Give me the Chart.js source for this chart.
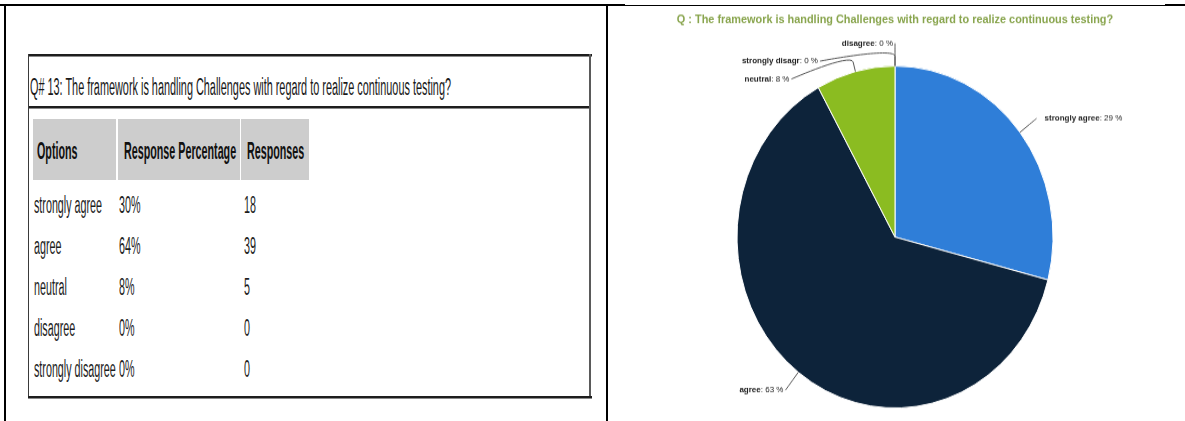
<!DOCTYPE html>
<html>
<head>
<meta charset="utf-8">
<script src="https://cdn.jsdelivr.net/npm/chart.js@4.4.1/dist/chart.umd.min.js"></script>
<style>
  html, body { margin: 0; padding: 0; background: #fff; }
  body { width: 1185px; height: 421px; position: relative; overflow: hidden;
         font-family: "Liberation Sans", Arial, sans-serif; }
  .ln { position: absolute; background: #000; }
  .cell { position: absolute; background: #cdcdcd; }
  .tx { position: absolute; white-space: nowrap; font-size: 23px; line-height: 23px;
        transform-origin: 0 0; color: #1e1e1e; }
  #pieWrap { position: absolute; left: 610px; top: 8px; width: 575px; height: 381px;
             transform: scaleY(1.0823); transform-origin: 0 0; }
  #pie { display: block; }
</style>
</head>
<body>
<div id="table"></div>
<div id="pieWrap"><canvas id="pie" width="575" height="381" style="width:575px;height:381px"></canvas></div>

<script>
// ---- survey data ----
const tableTitle = 'Q# 13: The framework is handling Challenges with regard to realize continuous testing?';
const columnHeads = ['Options', 'Response Percentage', 'Responses'];
const optionNames = ['strongly agree', 'agree', 'neutral', 'disagree', 'strongly disagree'];
const responsePercent = [30, 64, 8, 0, 0];
const responseCount = [18, 39, 5, 0, 0];

const chartTitle = 'Q : The framework is handling Challenges with regard to realize continuous testing?';
const sliceLabels = ['strongly agree', 'agree', 'neutral', 'strongly disagr', 'disagree'];
const sliceValues = [18, 39, 5, 0, 0];
const sliceColors = ['#2f7ed8', '#0d233a', '#8bbc21', '#910000', '#1aadce'];

// ---- frame lines and table box ----
const layer = document.getElementById('table');
function box(cls, x, y, w, h, color) {
  const d = document.createElement('div');
  d.className = cls;
  Object.assign(d.style, { left: x + 'px', top: y + 'px', width: w + 'px', height: h + 'px' });
  if (color) d.style.background = color;
  layer.appendChild(d);
  return d;
}
// page frame
box('ln', 0, 4, 625, 2);
box('ln', 625, 5, 540, 1);
box('ln', 1165, 4, 20, 2);
box('ln', 4, 4, 2, 417);
box('ln', 606, 4, 2, 417);
// table outline
box('ln', 28, 54, 564, 2, '#1e1e1e');
box('ln', 28, 56, 564, 1, '#8a8a8a');
box('ln', 28, 54, 1, 345, '#3a3a3a');
box('ln', 589, 54, 2, 345, '#5a5a5a');
box('ln', 29, 106, 560, 2, '#1e1e1e');
box('ln', 29, 108, 560, 1, '#8a8a8a');
box('ln', 28, 396, 564, 2, '#1e1e1e');
box('ln', 28, 398, 564, 1, '#8a8a8a');
// header cells
box('cell', 33, 119, 83, 61);
box('cell', 118, 119, 122, 61);
box('cell', 241, 119, 68, 61);

function addText(str, x, baseline, weight, color) {
  const el = document.createElement('div');
  el.className = 'tx';
  el.textContent = str;
  el.style.left = x + 'px';
  el.style.top = (baseline - 19.5) + 'px';
  el.style.fontWeight = weight;
  if (color) el.style.color = color;
  layer.appendChild(el);
  return el;
}
function squeeze(el, k) { el.style.transform = 'scaleX(' + k + ')'; }

// narrow lettering: one horizontal squeeze for the body, one for the heading
const probe = addText(optionNames[0], 34, 213, 'normal');
const kBody = 68 / probe.getBoundingClientRect().width;
probe.remove();

const titleEl = addText(tableTitle, 30, 95, 'normal', '#1a1a1a');
squeeze(titleEl, 421 / titleEl.getBoundingClientRect().width);

const headX = [37, 124, 247];
columnHeads.forEach((h, i) => squeeze(addText(h, headX[i], 159, 'bold', '#111'), kBody));

const colX = [34, 119, 244];
optionNames.forEach((name, r) => {
  const base = 213 + r * 41;
  squeeze(addText(name, colX[0], base, 'normal'), kBody);
  squeeze(addText(responsePercent[r] + '%', colX[1], base, 'normal'), kBody);
  squeeze(addText(String(responseCount[r]), colX[2], base, 'normal'), kBody);
});

// ---- pie chart ----
const total = sliceValues.reduce((a, b) => a + b, 0);
const FONT = '"Liberation Sans", Arial, sans-serif';
const titleSize = 10.9;

// outside labels with soft connector lines
const outerLabels = {
  id: 'outerLabels',
  afterDatasetsDraw(chart) {
    const ctx = chart.ctx;
    const meta = chart.getDatasetMeta(0);
    const items = meta.data.map((arc, i) => {
      const p = arc.getProps(['x', 'y', 'startAngle', 'endAngle', 'outerRadius'], true);
      const mid = (p.startAngle + p.endAngle) / 2;
      const R = p.outerRadius + 21;
      return { i, cx: p.x, cy: p.y, r: p.outerRadius, R, mid,
               left: mid > Math.PI / 2 + 1e-9, ny: p.y + Math.sin(mid) * R };
    });
    const gap = 16.5;
    [true, false].forEach(side => {
      const grp = items.filter(it => it.left === side)
        .sort((a, b) => (a.ny - b.ny) || (b.i - a.i));
      let prev = -Infinity;
      grp.forEach(it => { it.ly = Math.max(it.ny, prev + gap); prev = it.ly; });
    });
    ctx.save();
    items.forEach(it => {
      const c = Math.cos(it.mid), s = Math.sin(it.mid);
      const E = { x: it.cx + c * it.r, y: it.cy + s * it.r };
      const B = { x: it.cx + c * (it.r + 9), y: it.cy + s * (it.r + 9) };
      const dy = it.ly - it.cy;
      const dx = Math.sqrt(Math.max(0, it.R * it.R - dy * dy));
      const P = { x: it.cx + (it.left ? -dx : dx), y: it.ly };
      ctx.beginPath();
      ctx.moveTo(P.x, P.y);
      ctx.bezierCurveTo(P.x, P.y, 2 * B.x - E.x, 2 * B.y - E.y, B.x, B.y);
      ctx.lineTo(E.x, E.y);
      ctx.strokeStyle = '#555';
      ctx.lineWidth = 1;
      ctx.stroke();

      const name = sliceLabels[it.i];
      const rest = ': ' + Math.round(sliceValues[it.i] / total * 100) + ' %';
      ctx.textBaseline = 'middle';
      ctx.fillStyle = '#222';
      ctx.font = 'bold 8px ' + FONT;
      const wName = ctx.measureText(name).width;
      ctx.font = '8px ' + FONT;
      const wRest = ctx.measureText(rest).width;
      const x0 = it.left ? P.x - 2 - wName - wRest : P.x + 8;
      ctx.textAlign = 'left';
      ctx.font = 'bold 8px ' + FONT;
      ctx.fillText(name, x0, P.y);
      ctx.font = '8px ' + FONT;
      ctx.fillText(rest, x0 + wName, P.y);
    });
    ctx.restore();
  }
};

new Chart(document.getElementById('pie'), {
  type: 'pie',
  data: {
    labels: sliceLabels,
    datasets: [{
      data: sliceValues,
      backgroundColor: sliceColors,
      borderColor: '#ffffff',
      borderWidth: 1,
      hoverOffset: 0,
      radius: 158
    }]
  },
  options: {
    responsive: false,
    animation: false,
    layout: { padding: { top: 4, bottom: 0, left: 0, right: 5 } },
    plugins: {
      legend: { display: false },
      tooltip: { enabled: false },
      title: {
        display: true,
        text: chartTitle,
        color: '#89a54e',
        font: { family: FONT, size: titleSize, weight: 'bold', lineHeight: 1.2 },
        padding: { top: 0, bottom: 42.2 - 4 - 1.2 * titleSize }
      }
    }
  },
  plugins: [outerLabels]
});
</script>
</body>
</html>
